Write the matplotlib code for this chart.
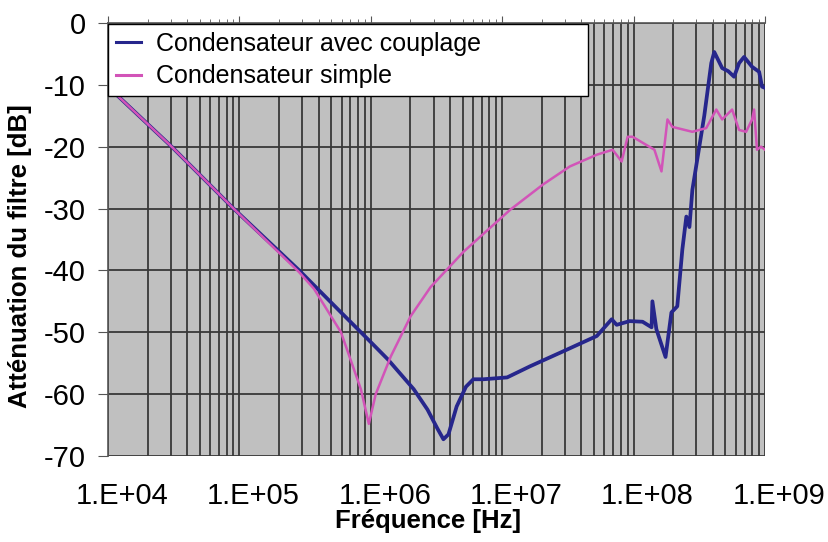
import numpy as np
import matplotlib
matplotlib.use("Agg")
import matplotlib.pyplot as plt
import matplotlib.transforms as mtransforms
from matplotlib.ticker import FixedLocator, LogLocator, FuncFormatter, NullFormatter

plt.rcParams['font.family'] = ['Liberation Sans', 'DejaVu Sans']
plt.rcParams['axes.unicode_minus'] = False

# Condensateur avec couplage (Hz, dB)
freq_couplage = [1.0e4, 3.05e4, 9.02e4, 2.85e5, 6.0e5, 1.0e6, 1.35e6, 2.12e6, 2.7e6,
                 3.2e6, 3.57e6, 3.9e6, 4.5e6, 5.3e6, 6.03e6, 7.18e6, 1.09e7, 1.63e7,
                 2.90e7, 5.25e7, 6.81e7, 7.43e7, 9.33e7, 1.17e8, 1.37e8, 1.39e8, 1.49e8,
                 1.75e8, 1.94e8, 2.15e8, 2.35e8, 2.52e8, 2.66e8, 2.80e8, 3.45e8, 3.90e8,
                 4.11e8, 4.72e8, 5.25e8, 5.82e8, 6.35e8, 6.93e8, 7.98e8, 9.02e8, 9.49e8, 1.0e9]
db_couplage = [-10.3, -20, -30, -40, -46.9, -51.6, -54.4, -59.2, -62.5,
               -65.5, -67.3, -66.5, -62, -58.8, -57.6, -57.6, -57.3, -55.5,
               -53.1, -50.6, -47.9, -48.8, -48.2, -48.3, -49.2, -45, -49.5,
               -54, -46.8, -45.8, -36.6, -31.3, -33, -27, -15, -6.5,
               -4.7, -7.3, -7.8, -8.7, -6.5, -5.5, -7.1, -7.9, -10.3, -10.5]

# Condensateur simple (Hz, dB)
freq_simple = [1.0e4, 3.05e4, 9.02e4, 2.85e5, 3.70e5, 5.93e5, 8.40e5, 9.66e5, 1.09e6,
               1.42e6, 2.01e6, 2.85e6, 5.07e6, 1.15e7, 2.05e7, 3.27e7, 5.25e7, 6.92e7,
               8.11e7, 9.01e7, 9.82e7, 1.44e8, 1.63e8, 1.81e8, 1.97e8, 2.80e8, 3.57e8,
               4.26e8, 4.72e8, 5.62e8, 6.35e8, 7.18e8, 7.98e8, 8.26e8, 8.69e8, 9.33e8, 1.0e9]
db_simple = [-10.3, -20, -30, -40.3, -43, -50, -59.2, -64.8, -60,
             -53.9, -47.4, -42.7, -37, -30.2, -26.1, -23.2, -21.3, -20.5,
             -22.4, -18.4, -18.4, -20.5, -24, -15.6, -16.8, -17.6, -17,
             -14, -15.6, -14, -17.3, -17.6, -15.6, -14, -20.5, -20, -20.5]

y_ticks = [0, -10, -20, -30, -40, -50, -60, -70]
x_ticks = [1e4, 1e5, 1e6, 1e7, 1e8, 1e9]

fig = plt.figure(figsize=(8.29, 5.42), dpi=100)
ax = fig.add_axes([0.1303, 0.1587, 0.7925, 0.799])
ax.set_facecolor('#c0c0c0')

ax.plot(freq_couplage, db_couplage, color='#26268c', lw=2.7, label='Condensateur avec couplage', zorder=3)
ax.plot(freq_simple, db_simple, color='#d254b8', lw=1.8, label='Condensateur simple', zorder=3)

ax.set_xscale('log')
ax.set_xlim(1e4, 1e9)
ax.set_ylim(-70, 0)
ax.xaxis.set_major_locator(FixedLocator(x_ticks))
ax.xaxis.set_minor_locator(LogLocator(base=10, subs=np.arange(2, 10)))
ax.xaxis.set_major_formatter(FuncFormatter(lambda v, p: "1.E+%02d" % round(np.log10(v))))
ax.xaxis.set_minor_formatter(NullFormatter())
ax.yaxis.set_major_locator(FixedLocator(y_ticks))

ax.grid(True, which='major', axis='both', color='#383838', lw=1.3)
ax.grid(True, which='minor', axis='x', color='#383838', lw=1.3)
ax.set_axisbelow(True)

for s in ['right', 'bottom']:
    ax.spines[s].set_visible(False)
for s in ['left', 'top']:
    ax.spines[s].set_color('#555555')
    ax.spines[s].set_linewidth(1.2)

ax.tick_params(axis='x', which='both', top=True, bottom=False, labeltop=False, labelbottom=True,
               direction='out', color='#555555')
ax.tick_params(axis='x', which='major', length=5, labelsize=21, pad=14)
ax.tick_params(axis='x', which='minor', length=3)
ax.tick_params(axis='y', which='major', length=7, labelsize=21, color='#555555', pad=9)

# Excel places the frequency labels slightly to the right of their ticks
offset = mtransforms.ScaledTranslation(14 / 100, 0, fig.dpi_scale_trans)
for lbl in ax.get_xticklabels():
    lbl.set_transform(lbl.get_transform() + offset)

ax.set_xlabel('Fréquence [Hz]', fontsize=18.5, fontweight='bold')
ax.set_ylabel('Atténuation du filtre [dB]', fontsize=18.5, fontweight='bold')
ax.xaxis.set_label_coords(0.487, -0.122)
ax.yaxis.set_label_coords(-0.116, 0.462)

leg = ax.legend(loc='upper left', bbox_to_anchor=(0.0, 0.83, 0.73, 0.167), mode='expand',
                fontsize=18, frameon=True, fancybox=False, framealpha=1, edgecolor='black',
                handlelength=1.0, handletextpad=0.6, borderpad=0.3, labelspacing=0.35,
                borderaxespad=0)
leg.get_frame().set_linewidth(1.0)
for line in leg.get_lines():
    line.set_linewidth(2.2)

fig.savefig('out.png', dpi=100)
